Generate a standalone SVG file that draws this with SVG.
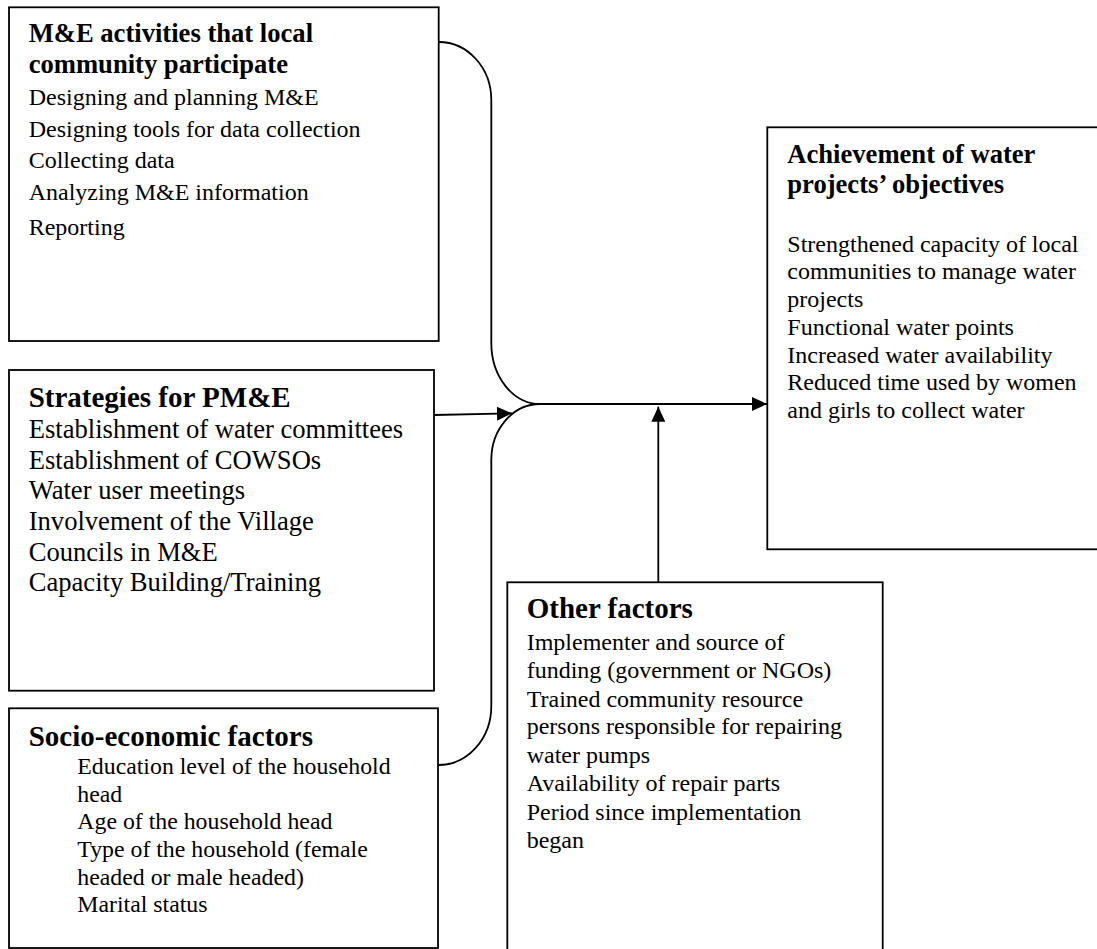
<svg xmlns="http://www.w3.org/2000/svg" width="1097" height="949" viewBox="0 0 1097 949">
<style>
.box{fill:#fff;stroke:#000;stroke-width:1.8}
.t{font-family:"Liberation Serif","Times New Roman",serif;fill:#000}
.b{font-weight:bold}
.ln{fill:none;stroke:#000;stroke-width:1.8}
</style>
<defs>
<marker id="ah" markerUnits="userSpaceOnUse" markerWidth="16" markerHeight="14" refX="15" refY="7" orient="auto">
<path d="M0,0 L15,7 L0,14 z" fill="#000"/>
</marker>
</defs>
<rect width="1097" height="949" fill="#fff"/>
<g id="connectors">
<path class="ln" d="M438.7,42 A52.6,58 0 0 1 491.3,100 L491.3,343 A48.7,61 0 0 0 540,404"/>
<path class="ln" d="M540,404 A48.7,56 0 0 0 491.3,460 L491.3,706 A52.6,59 0 0 1 438.7,765"/>
<line class="ln" x1="540" y1="404" x2="767" y2="404" marker-end="url(#ah)"/>
<line class="ln" x1="434" y1="415" x2="512" y2="413.3" marker-end="url(#ah)"/>
<line class="ln" x1="658.3" y1="582" x2="658.3" y2="406.7" marker-end="url(#ah)"/>
</g>
<g id="node-me">
<rect class="box" x="9" y="7.3" width="429.7" height="333.7"/>
<text class="t b" font-size="26.6" x="28.7" y="42.3">M&amp;E activities that local</text>
<text class="t b" font-size="26.6" x="28.7" y="72.7">community participate</text>
<text class="t" font-size="24" x="28.7" y="105">Designing and planning M&amp;E</text>
<text class="t" font-size="24" x="28.7" y="137">Designing tools for data collection</text>
<text class="t" font-size="24" x="28.7" y="168">Collecting data</text>
<text class="t" font-size="24" x="28.7" y="200">Analyzing M&amp;E information</text>
<text class="t" font-size="24" x="28.7" y="235">Reporting</text>
</g>
<g id="node-strategies">
<rect class="box" x="9" y="370" width="425" height="320.7"/>
<text class="t b" font-size="29" x="28.7" y="407.3">Strategies for PM&amp;E</text>
<text class="t" font-size="26.6" x="28.7" y="438.3">Establishment of water committees</text>
<text class="t" font-size="26.6" x="28.7" y="469">Establishment of COWSOs</text>
<text class="t" font-size="26.6" x="28.7" y="499.3">Water user meetings</text>
<text class="t" font-size="26.6" x="28.7" y="530">Involvement of the Village</text>
<text class="t" font-size="26.6" x="28.7" y="560.7">Councils in M&amp;E</text>
<text class="t" font-size="26.6" x="28.7" y="591">Capacity Building/Training</text>
</g>
<g id="node-socio">
<rect class="box" x="9" y="708.3" width="429" height="239.7"/>
<text class="t b" font-size="29" x="28.7" y="745.7">Socio-economic factors</text>
<text class="t" font-size="23.8" x="77.3" y="774">Education level of the household</text>
<text class="t" font-size="23.8" x="77.3" y="801.7">head</text>
<text class="t" font-size="23.8" x="77.3" y="829">Age of the household head</text>
<text class="t" font-size="23.8" x="77.3" y="856.7">Type of the household (female</text>
<text class="t" font-size="23.8" x="77.3" y="885">headed or male headed)</text>
<text class="t" font-size="23.8" x="77.3" y="911.7">Marital status</text>
</g>
<g id="node-achievement">
<rect class="box" x="767.3" y="127.3" width="340" height="422"/>
<text class="t b" font-size="26.6" x="787.3" y="163.3">Achievement of water</text>
<text class="t b" font-size="26.6" x="787.3" y="192.7">projects’ objectives</text>
<text class="t" font-size="24" x="787.3" y="251.7">Strengthened capacity of local</text>
<text class="t" font-size="24" x="787.3" y="279.4">communities to manage water</text>
<text class="t" font-size="24" x="787.3" y="307.1">projects</text>
<text class="t" font-size="24" x="787.3" y="334.8">Functional water points</text>
<text class="t" font-size="24" x="787.3" y="362.5">Increased water availability</text>
<text class="t" font-size="24" x="787.3" y="390.2">Reduced time used by women</text>
<text class="t" font-size="24" x="787.3" y="417.9">and girls to collect water</text>
</g>
<g id="node-other">
<rect class="box" x="507.3" y="582.3" width="375.4" height="380"/>
<text class="t b" font-size="29" x="526.7" y="618.3">Other factors</text>
<text class="t" font-size="24" x="526.7" y="650">Implementer and source of</text>
<text class="t" font-size="24" x="526.7" y="678.3">funding (government or NGOs)</text>
<text class="t" font-size="24" x="526.7" y="706.7">Trained community resource</text>
<text class="t" font-size="24" x="526.7" y="734.3">persons responsible for repairing</text>
<text class="t" font-size="24" x="526.7" y="762.7">water pumps</text>
<text class="t" font-size="24" x="526.7" y="791">Availability of repair parts</text>
<text class="t" font-size="24" x="526.7" y="820">Period since implementation</text>
<text class="t" font-size="24" x="526.7" y="848.3">began</text>
</g>
</svg>
